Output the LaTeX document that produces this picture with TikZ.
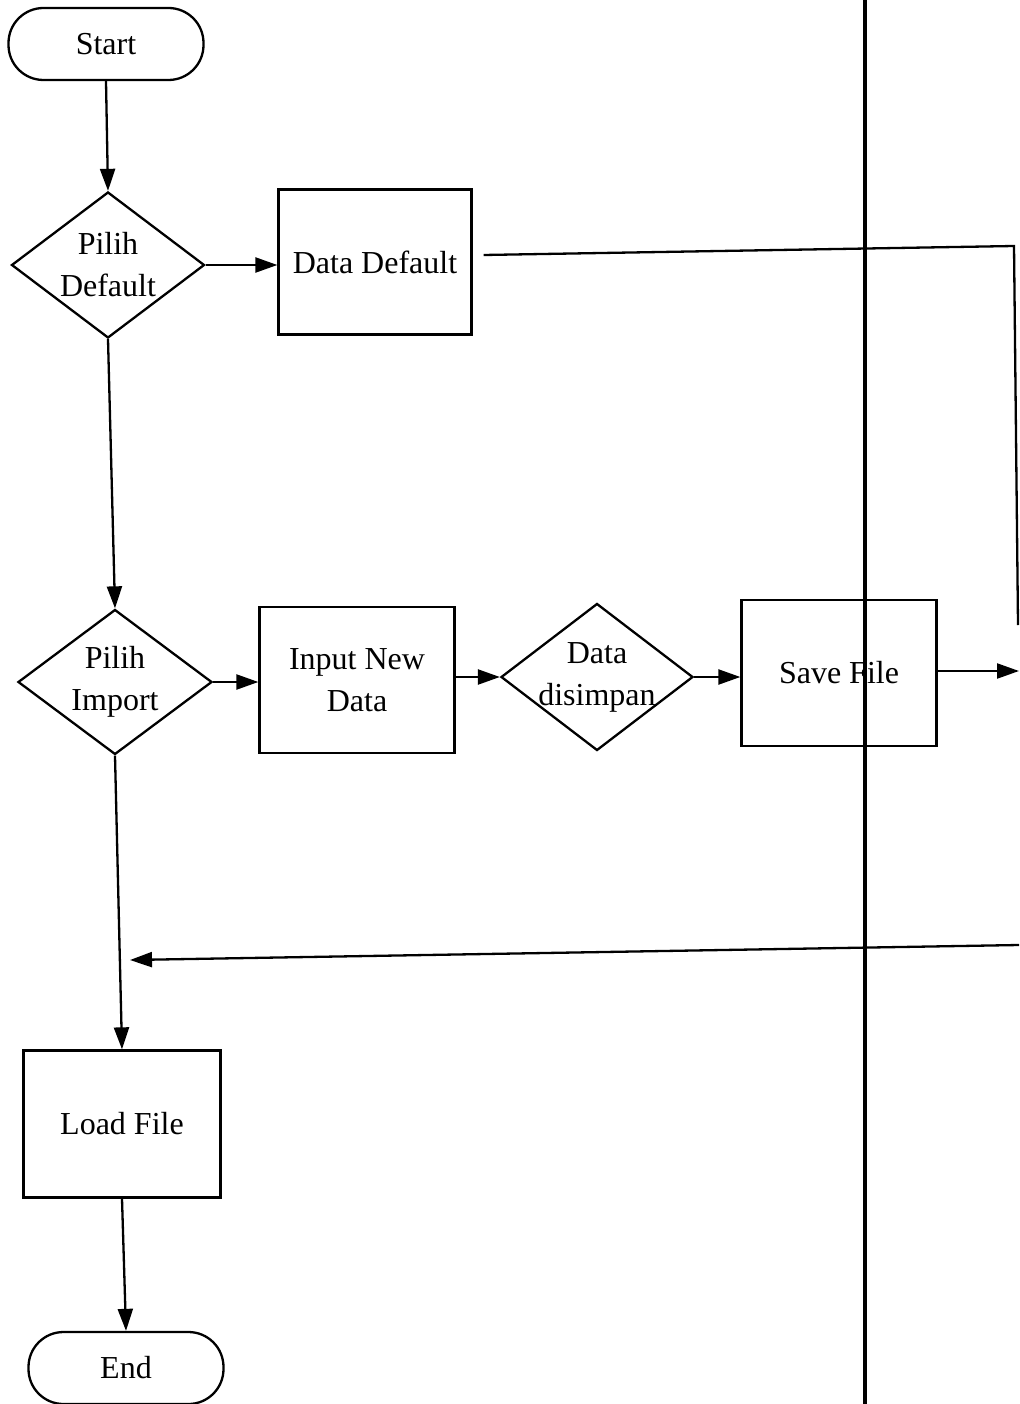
\documentclass[tikz,border=0pt]{standalone}
\usepackage{fontspec}
\setmainfont{Liberation Serif}
\usetikzlibrary{arrows.meta,shapes.geometric}
\begin{document}
\begin{tikzpicture}[x=1pt,y=-1pt,
  every node/.style={font=\fontsize{32}{42}\selectfont},
  box/.style={draw, line width=2.3pt, rectangle, minimum width=195pt, minimum height=146pt, inner sep=0pt, align=center},
  term/.style={draw, line width=2.3pt, rectangle, rounded corners=35pt, minimum width=195pt, minimum height=72pt, inner sep=0pt},
  dec/.style={draw, line width=2.3pt, diamond, minimum width=193pt, minimum height=146pt, inner sep=0pt},
  conn/.style={line width=2.3pt, -{Triangle[length=22pt,width=15pt]}},
  plain/.style={line width=2.3pt},
  lane/.style={line width=4.5pt}]
\useasboundingbox (0,0) rectangle (1019,1404);

\node[term] (start) at (106,44) {Start};
\node[dec, label={[align=center]center:Pilih\\Default}] (pd) at (108,265) {};
\node[box, minimum width=193pt, minimum height=145pt] (dd) at (375,262) {Data Default};
\node[dec, minimum width=194pt, minimum height=145pt, label={[align=center]center:Pilih\\Import}] (pi) at (115,682) {};
\node[box] (inp) at (357,680) {Input New\\Data};
\node[dec, minimum width=192pt, minimum height=147pt, label={[align=center]center:Data\\disimpan}] (ds) at (597,677) {};
\node[box] (sf) at (839,673) {Save File};
\node[box, minimum width=197pt, minimum height=147pt] (lf) at (122,1124) {Load File};
\node[term] (end) at (126,1368) {End};

\coordinate (laneT) at (865,0);
\coordinate (laneB) at (865,1404);
\draw[lane] (laneT) -- (laneB);

\coordinate (r1) at (1014,246);
\coordinate (r2) at (1018,625);
\draw[plain] ([xshift=11pt,yshift=7pt]dd.east) -- (r1) -- (r2);

\coordinate (so) at (1019,671);
\draw[conn] (sf.east |- so) -- (so);

\coordinate (ra) at (1019,945);
\coordinate (rb) at (130,960);
\draw[conn] (ra) -- (rb);

\draw[conn] (start.south) -- (pd.north);
\draw[conn] (pd.east) -- (pd.east -| dd.west);
\draw[conn] (pd.south) -- (pi.north);
\draw[conn] (pi.east) -- (pi.east -| inp.west);
\draw[conn] (inp.east |- ds.west) -- (ds.west);
\draw[conn] (ds.east) -- (ds.east -| sf.west);
\draw[conn] (pi.south) -- (lf.north);
\draw[conn] (lf.south) -- (end.north);
\end{tikzpicture}
\end{document}
